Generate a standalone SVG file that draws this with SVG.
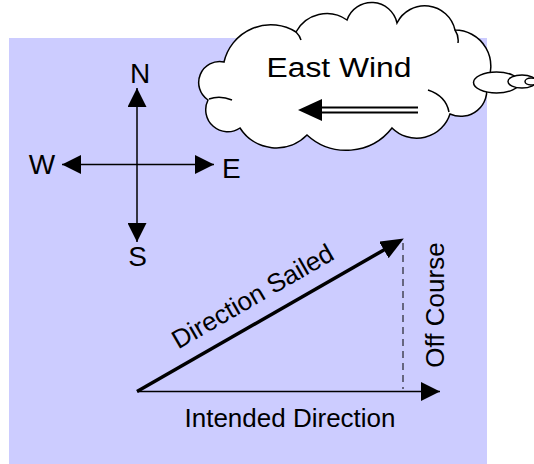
<svg xmlns="http://www.w3.org/2000/svg" width="534" height="464" viewBox="0 0 534 464">
<style>
.lbl{font-family:"Liberation Sans",Arial,sans-serif;fill:#000}
.ln{stroke:#000;fill:none}
.cl{fill:#fff;stroke:#000;stroke-width:1.5}
</style>
<defs>
<marker id="tri" markerUnits="userSpaceOnUse" markerWidth="19" markerHeight="19" refX="19" refY="9.5" orient="auto-start-reverse">
<path d="M0,0 L19,9.5 L0,19 z" fill="#000"/>
</marker>
<marker id="big" markerUnits="userSpaceOnUse" markerWidth="23" markerHeight="19" refX="12" refY="9.5" orient="auto">
<path d="M0,0 L23,9.5 L0,19 z" fill="#000"/>
</marker>
</defs>
<rect id="bg" x="9" y="38" width="478" height="426" fill="#CCCCFF"/>

<g id="cloud">
<path class="cl" d="M240 128 A22 22 0 0 1 208 100 A21 21 0 0 1 224 62 A48 48 0 0 1 296 32 A35 35 0 0 1 347 20 A26 26 0 0 1 397 23 A31 31 0 0 1 455 30 A36 36 0 0 1 486 84 A26 26 0 0 1 450 114 A35 35 0 0 1 392 128 A58 58 0 0 1 307 135 A43 43 0 0 1 240 128 Z"/>
<path class="ln" stroke-width="1.5" d="M209 99 Q220 95 232 100 M428 90 Q446 96 449 112 M296 32 Q300 36 301 40 M455 30 Q459 36 458 43"/>
<ellipse class="cl" cx="496.5" cy="82.5" rx="23" ry="10.5"/>
<ellipse class="cl" cx="522" cy="81.5" rx="14" ry="6.5"/>
<ellipse class="cl" cx="531" cy="81.5" rx="6" ry="3.5"/>
<text class="lbl" x="339" y="77" font-size="27" text-anchor="middle" textLength="145" lengthAdjust="spacingAndGlyphs">East Wind</text>
<polygon points="298,110 322,99 322,121" fill="#000"/>
<line class="ln" x1="320" y1="107.5" x2="418" y2="107.5" stroke-width="2"/>
<line class="ln" x1="320" y1="112.5" x2="418" y2="112.5" stroke-width="2"/>
</g>

<g id="connectors">
<line class="ln" x1="137" y1="88" x2="137" y2="242" stroke-width="1.5" marker-start="url(#tri)" marker-end="url(#tri)"/>
<line class="ln" x1="62" y1="164.5" x2="214" y2="164.5" stroke-width="1.5" marker-start="url(#tri)" marker-end="url(#tri)"/>
<line class="ln" x1="137" y1="391.5" x2="394.3" y2="244" stroke-width="3.5" marker-end="url(#big)"/>
<line class="ln" x1="137" y1="391.5" x2="440" y2="391.5" stroke-width="1.5" marker-end="url(#tri)"/>
<line class="ln" x1="403" y1="243" x2="403" y2="389" stroke="#333" stroke-width="1" stroke-dasharray="7 5"/>
</g>

<g id="compass-labels">
<text class="lbl" x="140" y="83" font-size="28" text-anchor="middle">N</text>
<text class="lbl" x="137.5" y="266" font-size="28" text-anchor="middle">S</text>
<text class="lbl" x="42" y="174" font-size="28" text-anchor="middle">W</text>
<text class="lbl" x="222" y="178" font-size="28">E</text>
</g>

<g id="direction-sailed">
<text class="lbl" font-size="26" text-anchor="middle" transform="translate(257,304) rotate(-30)">Direction Sailed</text>
</g>
<g id="off-course">
<text class="lbl" font-size="26" text-anchor="middle" transform="translate(444,305) rotate(-90)">Off Course</text>
</g>
<g id="intended-direction">
<text class="lbl" x="290" y="427" font-size="26" text-anchor="middle">Intended Direction</text>
</g>
</svg>
